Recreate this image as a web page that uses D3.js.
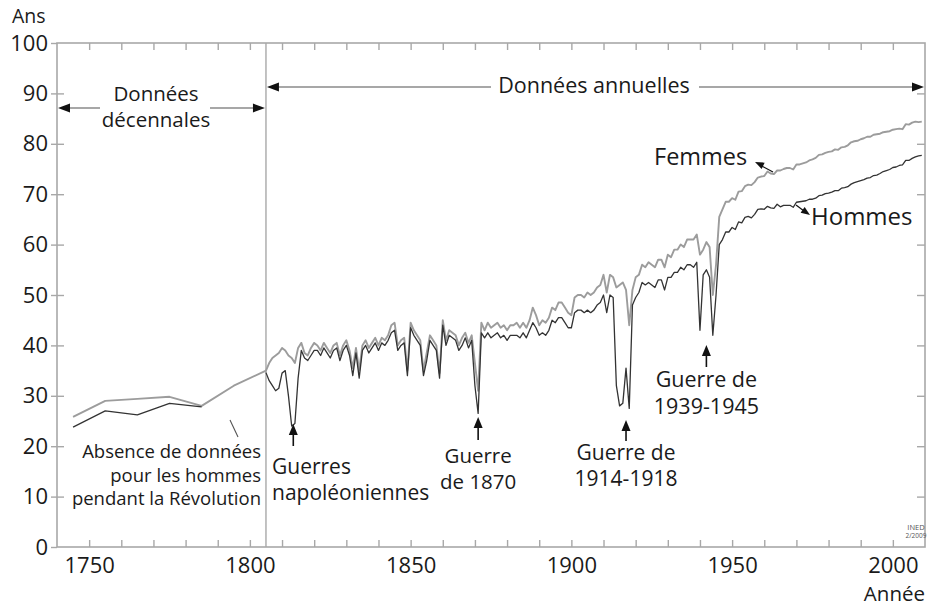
<!DOCTYPE html>
<html>
<head>
<meta charset="utf-8">
<script src="https://cdn.jsdelivr.net/npm/d3@7"></script>
<style>
  body { margin: 0; background: #fff; }
  svg { font-family: "Open Sans", sans-serif; }
  text { fill: #1a1a1a; }
</style>
</head>
<body>
<div id="chart"></div>
<script>
// decennial estimates (mid-decade), hommes missing for the Revolution decade
var decYears   = [1745, 1755, 1765, 1775, 1785, 1795, 1805];
var decFemmes  = [25.8, 29.0, 29.4, 29.8, 28.0, 32.0, 35.0];
var decHommes  = [23.8, 27.0, 26.2, 28.5, 27.8, null, 34.6];

// annual series, 1806 -> 2009
var annYears = d3.range(1806, 2010);
var annFemmes = [
  36.5, 37.5, 38.0, 38.5, 39.5, 39.0, 38.0, 37.5, 36.5, 39.5,   // 1806-1815
  40.5, 38.5, 38.0, 39.5, 40.5, 40.0, 39.0, 40.5, 39.5, 38.5,   // 1816-1825
  40.0, 40.5, 38.0, 40.0, 41.0, 39.0, 35.5, 39.5, 35.0, 40.0,   // 1826-1835
  41.0, 39.5, 40.5, 41.5, 40.0, 41.5, 41.0, 42.0, 44.0, 44.5,   // 1836-1845
  40.0, 41.0, 41.5, 35.0, 44.5, 43.0, 42.0, 41.0, 35.0, 38.5,   // 1846-1855
  42.0, 41.0, 40.0, 34.5, 45.0, 41.0, 43.0, 42.5, 42.0, 40.0,   // 1856-1865
  41.5, 42.5, 40.5, 42.0, 36.5, 31.0, 44.5, 43.0, 44.5, 43.5,   // 1866-1875
  44.0, 44.5, 43.5, 44.0, 43.0, 44.0, 44.0, 44.5, 43.5, 44.5,   // 1876-1885
  43.5, 45.0, 47.5, 46.0, 44.0, 45.0, 44.5, 45.5, 47.5, 47.0,   // 1886-1895
  48.5, 48.5, 47.5, 46.5, 46.0, 49.5, 50.0, 50.0, 49.5, 50.5,   // 1896-1905
  50.0, 50.5, 51.5, 52.0, 54.0, 50.5, 54.0, 53.5, 51.5, 52.0,   // 1906-1915
  52.5, 51.0, 44.0, 51.0, 53.5, 54.0, 56.0, 55.5, 56.5, 56.0,   // 1916-1925
  55.5, 57.0, 57.0, 55.5, 58.0, 57.5, 59.0, 59.0, 60.0, 59.5,   // 1926-1935
  61.0, 61.0, 61.0, 62.0, 58.0, 59.0, 60.5, 59.5, 50.0, 56.0,   // 1936-1945
  65.5, 67.0, 68.5, 68.5, 69.2, 68.9, 70.5, 70.6, 71.6, 71.9,   // 1946-1955
  71.8, 72.4, 73.3, 73.5, 73.6, 74.5, 74.1, 74.0, 74.7, 74.7,   // 1956-1965
  75.0, 75.2, 75.2, 74.9, 75.9, 75.9, 76.1, 76.3, 76.7, 76.9,   // 1966-1975
  77.2, 77.8, 77.9, 78.2, 78.4, 78.5, 78.9, 78.8, 79.3, 79.4,   // 1976-1985
  79.7, 80.3, 80.5, 80.6, 80.9, 81.1, 81.4, 81.4, 81.8, 81.9,   // 1986-1995
  82.0, 82.3, 82.4, 82.5, 82.8, 82.9, 83.0, 82.9, 83.9, 83.8,   // 1996-2005
  84.2, 84.4, 84.3, 84.4                                        // 2006-2009
];
var annHommes = [
  33.0, 32.0, 31.0, 31.5, 34.5, 35.0, 30.0, 24.0, 24.5, 33.5,   // 1806-1815
  39.0, 37.5, 37.0, 38.0, 39.0, 39.0, 38.0, 39.5, 38.5, 37.5,
  39.0, 39.5, 37.0, 39.0, 40.0, 38.0, 34.0, 38.5, 33.5, 39.0,
  40.0, 38.5, 39.5, 40.5, 39.0, 40.5, 40.0, 41.0, 42.5, 43.0,
  39.0, 40.0, 40.5, 34.0, 43.5, 42.0, 41.0, 40.0, 34.0, 37.0,
  41.0, 40.0, 39.0, 33.5, 44.0, 40.0, 42.0, 41.5, 41.0, 39.0,
  40.0, 41.5, 39.5, 41.0, 32.0, 26.5, 42.5, 41.5, 42.5, 41.5,
  42.0, 42.5, 41.5, 42.0, 41.0, 42.0, 42.0, 42.0, 41.5, 42.5,
  41.5, 43.0, 44.5, 43.5, 42.0, 42.5, 42.0, 43.0, 45.0, 44.5,
  45.5, 45.5, 44.5, 43.5, 43.5, 46.5, 47.0, 47.0, 46.5, 47.0,
  46.5, 47.0, 48.0, 48.5, 50.0, 46.5, 50.0, 49.5, 32.0, 28.0,
  28.5, 35.5, 27.5, 48.0, 49.5, 50.5, 52.5, 52.0, 52.5, 52.0,
  51.5, 53.0, 53.0, 51.0, 53.5, 53.5, 54.5, 54.5, 55.5, 55.0,
  56.0, 56.0, 55.5, 56.5, 43.0, 54.0, 55.0, 53.5, 42.0, 50.0,
  60.0, 61.0, 62.5, 62.5, 63.4, 63.0, 64.5, 64.3, 65.4, 65.6,
  65.3, 66.0, 67.0, 67.1, 67.0, 67.6, 67.3, 67.2, 68.0, 67.5,
  67.8, 67.8, 67.8, 67.4, 68.4, 68.5, 68.6, 68.7, 69.0, 69.0,
  69.2, 69.7, 69.8, 70.1, 70.2, 70.4, 70.7, 70.7, 71.2, 71.3,
  71.5, 72.0, 72.3, 72.5, 72.7, 72.9, 73.2, 73.3, 73.7, 73.8,
  74.1, 74.5, 74.7, 74.9, 75.3, 75.4, 75.7, 75.8, 76.7, 76.7,
  77.1, 77.4, 77.6, 77.7
];

var xTicks = d3.range(1750, 2010, 10);
var yTicks = d3.range(0, 101, 10);
var splitYear = 1805;

var W = 928, H = 607;
var L = 57, R = 925, T = 43, B = 547;

var svg = d3.select("#chart").append("svg")
    .attr("width", W)
    .attr("height", H);

var x = d3.scaleLinear().domain([1740, 2010]).range([L, R]);
var y = d3.scaleLinear().domain([0, 100]).range([B, T]);

var frameCol = "#a8a8a8";

function styleAxis(g) {
  g.select(".domain").remove();
  g.selectAll(".tick line").attr("stroke", frameCol).attr("stroke-width", 1.4);
  g.selectAll(".tick text").attr("fill", "#1a1a1a");
}

// axes
svg.append("g")
    .attr("transform", "translate(0," + B + ")")
    .call(d3.axisBottom(x).tickValues(xTicks).tickSize(-7).tickPadding(10)
      .tickFormat(function(d) { return d % 50 === 0 ? d : ""; }))
    .attr("font-size", 22).attr("font-family", null)
    .call(styleAxis);

svg.append("g")
    .attr("transform", "translate(0," + T + ")")
    .call(d3.axisTop(x).tickValues(xTicks).tickSize(-7).tickFormat(""))
    .call(styleAxis);

svg.append("g")
    .attr("transform", "translate(" + L + ",0)")
    .call(d3.axisLeft(y).tickValues(yTicks).tickSize(6).tickPadding(3))
    .attr("font-size", 22).attr("font-family", null)
    .call(styleAxis);

svg.append("g")
    .attr("transform", "translate(" + L + ",0)")
    .call(d3.axisRight(y).tickValues(yTicks.slice(1, -1)).tickSize(7).tickFormat(""))
    .call(styleAxis);

svg.append("g")
    .attr("transform", "translate(" + R + ",0)")
    .call(d3.axisLeft(y).tickValues(yTicks.slice(1, -1)).tickSize(8).tickFormat(""))
    .call(styleAxis);

svg.append("rect")
    .attr("x", L).attr("y", T)
    .attr("width", R - L).attr("height", B - T)
    .attr("fill", "none")
    .attr("stroke", frameCol)
    .attr("stroke-width", 1.6);

// divider between decennial and annual data
svg.append("line")
    .attr("x1", x(splitYear)).attr("x2", x(splitYear))
    .attr("y1", T).attr("y2", B)
    .attr("stroke", frameCol).attr("stroke-width", 1.4);

// series
var femmes = decYears.map(function(d, i) { return [d, decFemmes[i]]; })
  .concat(annYears.map(function(d, i) { return [d, annFemmes[i]]; }));
var hommes = decYears.map(function(d, i) { return [d, decHommes[i]]; })
  .concat(annYears.map(function(d, i) { return [d, annHommes[i]]; }));

var line = d3.line()
    .defined(function(d) { return d[1] != null; })
    .x(function(d) { return x(d[0]); })
    .y(function(d) { return y(d[1]); });

svg.append("path")
    .datum(femmes)
    .attr("d", line)
    .attr("fill", "none")
    .attr("stroke", "#9c9c9c")
    .attr("stroke-width", 1.9)
    .attr("stroke-linejoin", "round");

svg.append("path")
    .datum(hommes)
    .attr("d", line)
    .attr("fill", "none")
    .attr("stroke", "#333")
    .attr("stroke-width", 1.3)
    .attr("stroke-linejoin", "round");

// arrow heads
function head(px, py, ang, len, wid) {
  var a = ang * Math.PI / 180,
      c = Math.cos(a), s = Math.sin(a);
  var bx = px - c * len, by = py - s * len;
  svg.append("path")
    .attr("d", "M" + px + "," + py +
      "L" + (bx - s * wid / 2) + "," + (by + c * wid / 2) +
      "L" + (bx + s * wid / 2) + "," + (by - c * wid / 2) + "Z")
    .attr("fill", "#111");
}

function seg(x1, y1, x2, y2, col, w) {
  svg.append("line")
    .attr("x1", x1).attr("y1", y1).attr("x2", x2).attr("y2", y2)
    .attr("stroke", col || "#111").attr("stroke-width", w || 1.3);
}

function label(tx, ty, lines, anchor, size, dy, col) {
  var t = svg.append("text")
    .attr("x", tx).attr("y", ty)
    .attr("text-anchor", anchor || "start")
    .attr("font-size", size || 18);
  if (col) t.style("fill", col);
  lines.forEach(function(s, i) {
    t.append("tspan").attr("x", tx).attr("dy", i ? (dy || 25) : 0).text(s);
  });
}

// period spans
var ySpan1 = 108, ySpan2 = 87;
seg(L + 10, ySpan1, 100, ySpan1, "#8a8a8a");
seg(210, ySpan1, x(splitYear) - 10, ySpan1, "#8a8a8a");
head(L + 1, ySpan1, 180, 12, 9);
head(x(splitYear) - 1, ySpan1, 0, 12, 9);
label(156, 101, ["Données", "décennales"], "middle", 20.5, 26);

seg(x(splitYear) + 10, ySpan2, 491, ySpan2, "#8a8a8a");
seg(699, ySpan2, R - 10, ySpan2, "#8a8a8a");
head(x(splitYear) + 1, ySpan2, 180, 12, 9);
head(R - 1, ySpan2, 0, 12, 9);
label(594, 93, ["Données annuelles"], "middle", 21.5);

// series labels
label(654, 165, ["Femmes"], "start", 23.5);
seg(773, 172, 760, 165, "#111", 1.2);
head(755, 162, 205, 9, 7);

label(811, 225, ["Hommes"], "start", 24);
seg(796, 205, 804, 211, "#111", 1.2);
head(810, 215, 35, 9, 7);

// notes
label(261, 458, ["Absence de données", "pour les hommes", "pendant la Révolution"], "end", 18.5, 23.5);
seg(230, 420, 238, 437, "#555", 1.1);

function upArrow(ax, yTop, yBot) {
  seg(ax, yTop + 8, ax, yBot, "#111", 1.6);
  head(ax, yTop, -90, 11, 9);
}

upArrow(x(1813.5), 424, 446);
label(272, 474, ["Guerres", "napoléoniennes"], "start", 21, 25.5);

upArrow(x(1871), 417, 440);
label(x(1871), 463, ["Guerre", "de 1870"], "middle", 20.5, 26);

upArrow(x(1917), 420, 441);
label(x(1917), 460, ["Guerre de", "1914-1918"], "middle", 21, 26);

upArrow(x(1942), 345, 367);
label(x(1942), 387, ["Guerre de", "1939-1945"], "middle", 21.5, 27);

// axis titles
label(12, 23, ["Ans"], "start", 19.5);
label(925, 601, ["Année"], "end", 20.5);

// small source stamp
label(916, 530, ["INED"], "middle", 7.5, 0, "#555");
label(916, 538, ["2/2009"], "middle", 6.5, 0, "#555");
</script>
</body>
</html>
